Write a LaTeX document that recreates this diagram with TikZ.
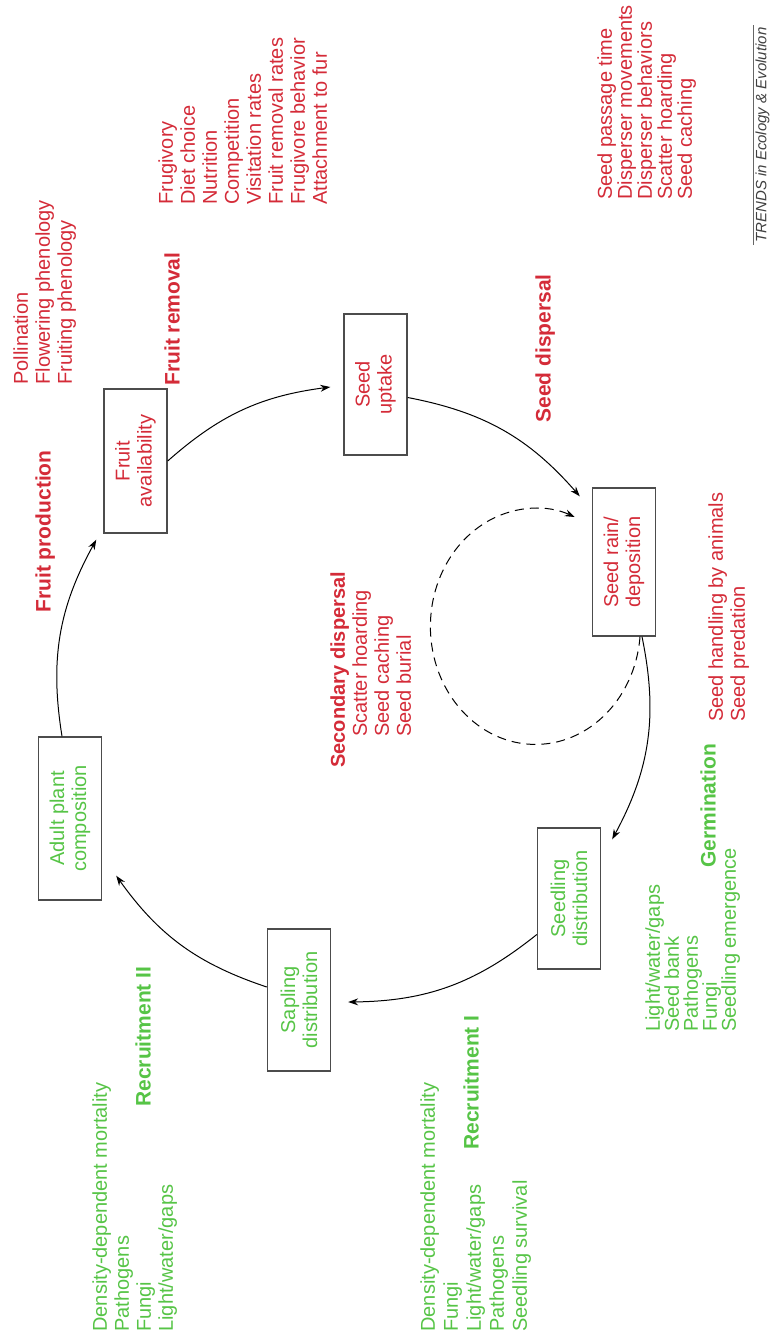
\documentclass[tikz,border=0pt]{standalone}
\usepackage{fontspec}
\setmainfont{Liberation Sans}
\usetikzlibrary{arrows.meta}

\definecolor{cyclered}{RGB}{212,43,56}
\definecolor{cyclegreen}{RGB}{86,196,70}

\tikzset{
  stage/.style={draw=black!70, line width=0.7pt, rotate=90, minimum width=72pt, minimum height=31.5pt, inner sep=1pt, align=center, font=\fontsize{10}{11}\selectfont},
  factors/.style={rotate=90, anchor=north west, inner sep=0pt, align=left, font=\fontsize{10}{11}\selectfont},
  heading/.style={rotate=90, anchor=north west, inner sep=0pt, font=\fontsize{10.5}{11}\selectfont\bfseries},
  flow/.style={-{Stealth[length=5pt,width=3.5pt]}, line width=0.5pt, bend left=19},
}

\begin{document}
\begin{tikzpicture}[x=0.5pt,y=-0.5pt]
\useasboundingbox (0,0) rectangle (771,1344);

% Stage boxes
\node [stage, text=cyclered] (fruit) at (135.5,461) {Fruit\\availability};
\node [stage, text=cyclered, minimum width=70.5pt] (uptake) at (375.5,384.5) {Seed\\uptake};
\node [stage, text=cyclered, minimum width=74pt] (rain) at (624,562) {Seed rain/\\deposition};
\node [stage, text=cyclegreen, minimum width=70.5pt] (seedling) at (569,898.5) {Seedling\\distribution};
\node [stage, text=cyclegreen, minimum width=71pt] (sapling) at (299,1000) {Sapling\\distribution};
\node [stage, text=cyclegreen, minimum width=81.5pt] (adult) at (70,818.5) {Adult plant\\composition};

% Text Node
\node [factors, text=cyclered] (pollination) at (13,385) {Pollination\\Flowering phenology\\Fruiting phenology};
\node [heading, text=cyclered] (production) at (35,613) {Fruit production};
\node [heading, text=cyclered] (removal) at (164,386) {Fruit removal};
\node [factors, text=cyclered] (frugivory) at (158,205) {Frugivory\\Diet choice\\Nutrition\\Competition\\Visitation rates\\Fruit removal rates\\Frugivore behavior\\Attachment to fur};
\node [heading, text=cyclered] (dispersal) at (535,423) {Seed dispersal};
\node [factors, text=cyclered, font=\fontsize{10}{10}\selectfont] (passage) at (597,200) {Seed passage time\\Disperser movements\\Disperser behaviors\\Scatter hoarding\\Seed caching};
\node [factors, text=cyclered] (secondary) at (330,768) {\textbf{Secondary dispersal}\\\hspace*{15.5pt}Scatter hoarding\\\hspace*{15.5pt}Seed caching\\\hspace*{15.5pt}Seed burial};
\node [factors, text=cyclered] (handling) at (708,722) {Seed handling by animals\\Seed predation};
% Text Node
\node [heading, text=cyclegreen] (germination) at (700,868) {Germination};
\node [factors, text=cyclegreen, font=\fontsize{10}{9.5}\selectfont] (emergence) at (645,1032) {Light/water/gaps\\Seed bank\\Pathogens\\Fungi\\Seedling emergence};
\node [heading, text=cyclegreen] (recruitI) at (463,1150) {Recruitment I};
\node [factors, text=cyclegreen, font=\fontsize{10}{11.5}\selectfont] (survival) at (420,1332) {Density-dependent mortality\\Fungi\\Light/water/gaps\\Pathogens\\Seedling survival};
\node [heading, text=cyclegreen] (recruitII) at (135,1107) {Recruitment II};
\node [factors, text=cyclegreen] (mortality) at (92,1332) {Density-dependent mortality\\Pathogens\\Fungi\\Light/water/gaps};
\node [rotate=90, anchor=north west, inner sep=1pt, font=\fontsize{7.5}{8}\selectfont\itshape, text=black!75] (journal) at (753,245) {TRENDS in Ecology \& Evolution};
\draw [black!60, line width=0.4pt] (journal.north west) -- (journal.north east);

% Cycle arrows
\draw [flow] ([xshift=-4pt]adult.east) to ([shift={(-3.5pt,-3pt)}]fruit.north west);
\draw [flow, bend left=17] (fruit.south) to ([shift={(-6.5pt,-1.25pt)}]uptake.north);
\draw [flow] ([yshift=-6.5pt]uptake.south) to ([shift={(-6pt,-4.5pt)}]rain.north east);
\draw [flow, bend left=20] ([xshift=9pt]rain.west) to ([shift={(5.5pt,-6pt)}]seedling.south east);
\draw [flow] ([yshift=-18pt]seedling.north) to ([shift={(8.5pt,-1pt)}]sapling.south);
\draw [flow, bend left=18] ([yshift=6.5pt]sapling.north) to ([shift={(7pt,12.5pt)}]adult.south west);
% secondary dispersal loop
\draw [-{Stealth[length=5pt,width=3.5pt]}, line width=0.5pt, dash pattern=on 4.5pt off 3pt] ([xshift=8pt]rain.west) arc[start angle=-5, end angle=-292, x radius=52.5pt, y radius=59pt];

\end{tikzpicture}
\end{document}
